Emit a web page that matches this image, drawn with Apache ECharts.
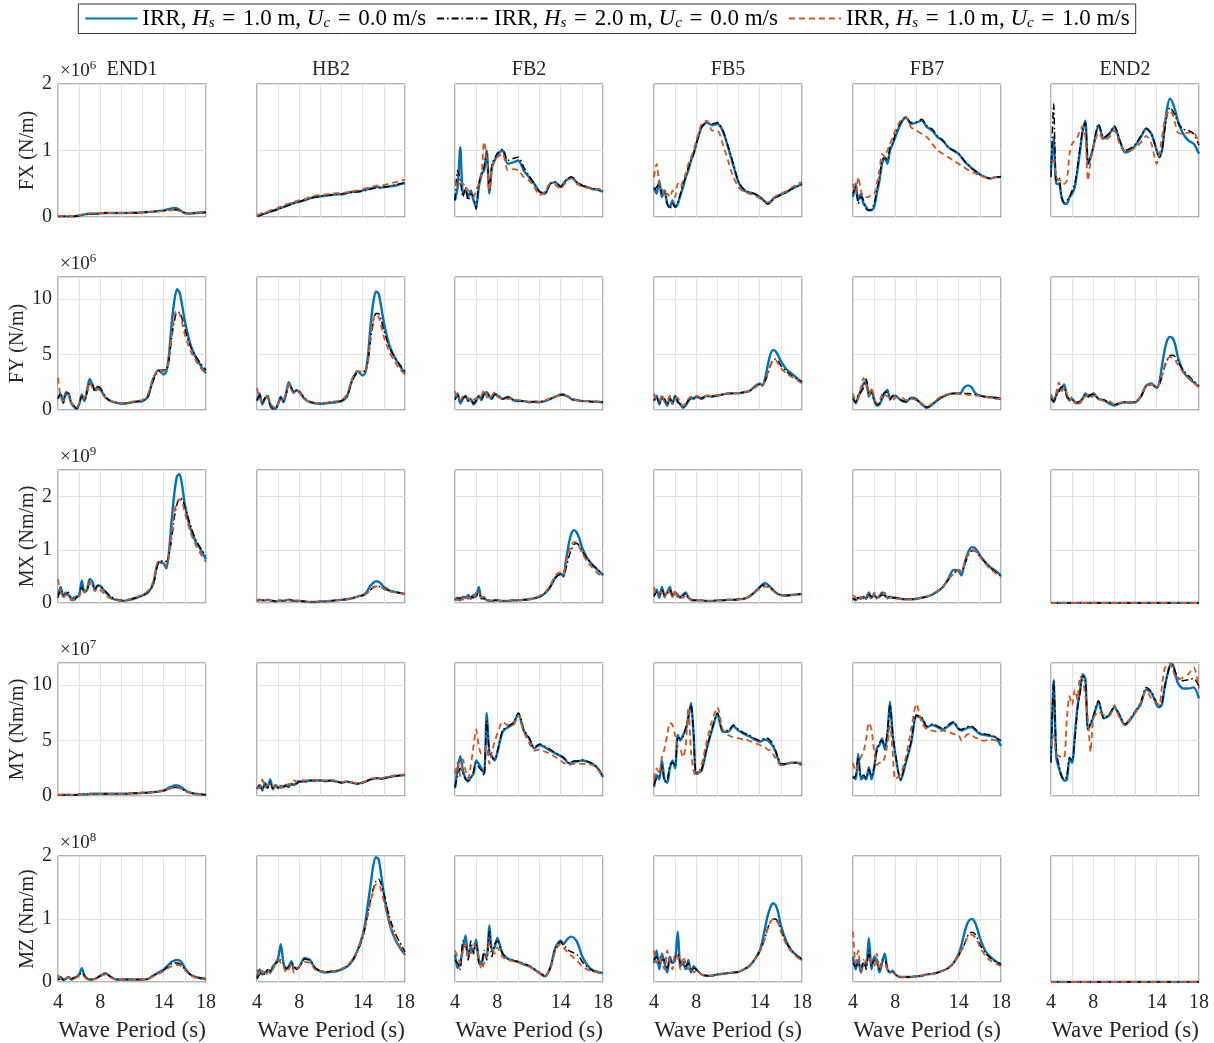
<!DOCTYPE html>
<html><head><meta charset="utf-8">
<script src="https://cdn.jsdelivr.net/npm/echarts@6/dist/echarts.min.js"></script>
<style>html,body{margin:0;padding:0;background:#fff}#c{width:1214px;height:1043px}</style>
</head><body><div id="c"></div>
<script>
// ---------------- data ----------------
const periods = [4,4.25,4.5,4.75,5,5.25,5.5,5.75,6,6.25,6.5,6.75,7,7.25,7.5,7.75,8,8.5,9,9.5,10,10.5,11,11.5,12,12.5,13,13.5,14,14.25,14.5,14.75,15,15.25,15.5,15.75,16,16.5,17,17.5,18];
const xTickLabels = ['4','8','14','18'];
const locations = ['END1','HB2','FB2','FB5','FB7','END2'];
const quantities = ['FX (N/m)','FY (N/m)','MX (Nm/m)','MY (Nm/m)','MZ (Nm/m)'];
const exponents = ['6','6','9','7','8'];
const yTickLabels = [['0','1','2'],['0','5','10'],['0','1','2'],['0','5','10'],['0','1','2']];
const yMax = [2,12,2.5,12,2];
const yStep = [1,5,1,5,1];
const caseHs = ['1.0','2.0','1.0'];
const caseUc = ['0.0','0.0','1.0'];
const seriesNames = ['IRR, Hs = 1.0 m, Uc = 0.0 m/s','IRR, Hs = 2.0 m, Uc = 0.0 m/s','IRR, Hs = 1.0 m, Uc = 1.0 m/s'];

const zeros = [0,0,0,0,0,0,0,0, 0,0,0,0,0,0,0,0, 0,0,0,0,0, 0,0,0,0,0, 0,0,0,0, 0,0,0,0,0,0, 0,0,0,0,0];

// FX (x1e6 N/m)
const fx_end1_a = [0.01,0.01,0.01,0.01,0.01,0.01,0.01,0.015, 0.02,0.03,0.04,0.045,0.05,0.05,0.05,0.05, 0.055,0.06,0.06,0.06,0.06, 0.06,0.065,0.065,0.07,0.075, 0.08,0.09,0.10,0.11, 0.12,0.13,0.135,0.13,0.11,0.08, 0.06,0.05,0.06,0.065,0.07];
const fx_end1_b = [0.01,0.01,0.01,0.01,0.01,0.01,0.01,0.015, 0.02,0.03,0.04,0.045,0.05,0.05,0.05,0.05, 0.055,0.06,0.06,0.06,0.06, 0.06,0.065,0.065,0.07,0.075, 0.08,0.088,0.095,0.1, 0.105,0.11,0.11,0.105,0.095,0.08, 0.065,0.055,0.06,0.065,0.07];
const fx_end1_c = [0.02,0.015,0.02,0.015,0.02,0.015,0.02,0.025, 0.03,0.035,0.045,0.05,0.055,0.055,0.05,0.055, 0.06,0.06,0.06,0.06,0.06, 0.06,0.065,0.065,0.07,0.075, 0.08,0.085,0.09,0.095, 0.1,0.1,0.1,0.1,0.09,0.08, 0.065,0.06,0.065,0.07,0.075];
const fx_hb2_a = [0.02,0.03,0.04,0.05,0.07,0.08,0.1,0.1, 0.12,0.14,0.15,0.17,0.18,0.2,0.21,0.22, 0.23,0.25,0.28,0.3,0.31, 0.32,0.33,0.34,0.34,0.36, 0.38,0.38,0.4,0.41, 0.42,0.43,0.44,0.45,0.45,0.44, 0.45,0.46,0.47,0.49,0.51];
const fx_hb2_b = [0.02,0.02,0.04,0.06,0.06,0.08,0.09,0.11, 0.12,0.13,0.15,0.16,0.18,0.19,0.21,0.22, 0.23,0.26,0.28,0.3,0.31, 0.33,0.33,0.34,0.35,0.36, 0.37,0.38,0.39,0.4, 0.41,0.42,0.43,0.44,0.44,0.44, 0.45,0.46,0.48,0.5,0.52];
const fx_hb2_c = [0.03,0.04,0.06,0.06,0.08,0.1,0.11,0.12, 0.14,0.16,0.17,0.19,0.2,0.22,0.23,0.24, 0.25,0.27,0.3,0.32,0.33, 0.34,0.35,0.36,0.36,0.37, 0.39,0.4,0.42,0.43, 0.44,0.45,0.46,0.47,0.47,0.47, 0.48,0.5,0.52,0.54,0.56];
const fx_fb2_a = [0.25,0.45,1.05,0.35,0.4,0.3,0.4,0.25, 0.15,0.45,0.65,0.7,1.0,0.35,0.75,0.85, 0.93,1.0,0.8,0.82,0.85, 0.7,0.6,0.5,0.38,0.35, 0.5,0.52,0.45,0.5, 0.55,0.58,0.6,0.57,0.52,0.5, 0.47,0.45,0.42,0.41,0.38];
const fx_fb2_b = [0.25,0.7,0.55,0.3,0.45,0.25,0.35,0.3, 0.12,0.5,0.62,0.75,0.95,0.4,0.8,0.88, 0.96,1.02,0.85,0.88,0.9, 0.75,0.62,0.5,0.38,0.36, 0.5,0.53,0.46,0.5, 0.55,0.58,0.6,0.58,0.53,0.5, 0.48,0.45,0.43,0.42,0.4];
const fx_fb2_c = [0.55,0.45,0.5,0.5,0.45,0.4,0.35,0.3, 0.4,0.5,0.6,1.13,0.9,0.4,0.75,0.85, 0.9,0.95,0.7,0.72,0.7, 0.6,0.55,0.45,0.33,0.38, 0.5,0.48,0.42,0.47, 0.52,0.56,0.58,0.56,0.5,0.48, 0.45,0.44,0.43,0.42,0.42];
const fx_fb5_a = [0.45,0.35,0.55,0.3,0.4,0.2,0.15,0.25, 0.15,0.2,0.33,0.45,0.6,0.7,0.85,0.95, 1.1,1.35,1.42,1.38,1.4, 1.3,1.05,0.78,0.52,0.4, 0.37,0.35,0.3,0.27, 0.23,0.2,0.22,0.27,0.3,0.32, 0.34,0.37,0.42,0.46,0.49];
const fx_fb5_b = [0.4,0.45,0.5,0.35,0.35,0.2,0.12,0.2, 0.15,0.22,0.35,0.5,0.6,0.75,0.85,0.95, 1.1,1.35,1.42,1.4,1.42, 1.3,1.07,0.8,0.53,0.42, 0.37,0.35,0.3,0.27, 0.23,0.2,0.22,0.26,0.29,0.31, 0.33,0.37,0.42,0.46,0.5];
const fx_fb5_c = [0.6,0.8,0.5,0.45,0.3,0.35,0.3,0.4, 0.3,0.5,0.45,0.55,0.65,0.8,0.9,1.0, 1.15,1.4,1.45,1.3,1.3, 1.1,0.85,0.6,0.45,0.38, 0.35,0.33,0.28,0.25, 0.23,0.22,0.24,0.28,0.31,0.33, 0.35,0.39,0.44,0.49,0.53];
const fx_fb7_a = [0.3,0.5,0.25,0.35,0.2,0.15,0.1,0.1, 0.15,0.35,0.55,0.8,0.9,0.8,1.0,1.1, 1.2,1.4,1.5,1.4,1.42, 1.45,1.35,1.3,1.2,1.15, 1.05,1.0,0.95,0.9, 0.85,0.8,0.77,0.73,0.7,0.67, 0.64,0.6,0.58,0.6,0.6];
const fx_fb7_b = [0.35,0.45,0.2,0.3,0.25,0.12,0.1,0.12, 0.2,0.4,0.6,0.85,0.9,0.85,1.05,1.1, 1.25,1.42,1.5,1.42,1.43, 1.47,1.37,1.32,1.22,1.15, 1.05,1.0,0.95,0.9, 0.85,0.8,0.77,0.73,0.7,0.67, 0.64,0.6,0.58,0.6,0.61];
const fx_fb7_c = [0.5,0.35,0.6,0.4,0.3,0.3,0.3,0.35, 0.35,0.5,0.7,0.95,0.9,1.0,1.1,1.2, 1.3,1.45,1.5,1.35,1.3, 1.25,1.2,1.1,1.0,0.95, 0.9,0.85,0.8,0.77, 0.75,0.72,0.7,0.68,0.66,0.64, 0.62,0.6,0.58,0.6,0.62];
const fx_end2_a = [0.7,1.2,0.5,0.5,0.3,0.2,0.2,0.3, 0.35,0.45,0.7,1.0,1.3,1.45,0.8,0.9, 1.05,1.38,1.18,1.25,1.35, 1.15,0.97,1.0,1.08,1.2, 1.33,1.25,1.0,0.9, 1.0,1.35,1.65,1.78,1.72,1.6, 1.45,1.25,1.15,1.1,0.95];
const fx_end2_b = [0.6,1.7,0.55,0.6,0.3,0.22,0.25,0.3, 0.4,0.5,0.75,1.05,1.3,1.42,0.8,0.9, 1.05,1.4,1.2,1.25,1.37, 1.15,1.0,1.03,1.1,1.22, 1.33,1.25,1.0,0.9, 1.0,1.3,1.55,1.65,1.6,1.52, 1.42,1.32,1.3,1.25,1.08];
const fx_end2_c = [0.85,0.85,0.6,0.55,0.55,0.5,0.55,0.95, 1.1,1.15,1.2,1.3,1.37,1.2,0.55,0.85, 1.05,1.27,1.15,1.2,1.3, 1.1,1.0,1.0,1.05,1.12, 1.22,1.1,0.8,0.95, 1.2,1.45,1.55,1.6,1.55,1.4, 1.27,1.25,1.27,1.27,1.1];

// FY (x1e6 N/m)
const fy_end1_a = [1.1,1.4,0.7,1.6,1.5,0.6,0.3,0.1, 0.5,1.4,0.8,1.8,2.8,2.3,1.8,2.1, 1.9,1.1,0.8,0.65,0.55, 0.6,0.7,0.75,0.8,1.2, 2.8,3.6,3.2,3.5, 5.0,7.8,9.8,10.9,10.6,9.4, 8.0,6.0,4.8,4.0,3.3];
const fy_end1_b = [1.0,1.6,0.6,1.5,1.5,0.6,0.4,0.15, 0.5,1.2,0.9,1.6,2.4,2.3,1.6,2.1, 2.0,1.2,0.8,0.7,0.6, 0.65,0.7,0.8,0.85,1.2, 2.6,3.5,3.6,3.6, 4.5,6.5,8.0,8.8,8.8,8.2, 7.3,5.8,4.9,4.2,3.6];
const fy_end1_c = [2.9,1.2,0.8,1.3,1.4,0.7,0.4,0.2, 0.6,1.0,1.1,1.6,2.5,2.0,1.7,1.9, 1.7,1.1,0.8,0.7,0.6, 0.65,0.75,0.85,0.9,1.4, 2.9,3.6,3.5,3.6, 4.5,6.8,8.5,9.0,8.7,7.8, 6.8,5.4,4.5,3.8,3.2];
const fy_hb2_a = [0.8,1.5,0.5,1.0,1.3,0.4,0.1,0.1, 0.6,1.2,0.7,1.5,2.5,2.0,1.6,1.8, 1.6,1.0,0.7,0.6,0.55, 0.6,0.65,0.7,0.8,1.2, 2.7,3.5,3.1,3.4, 4.9,7.7,9.7,10.7,10.5,9.3, 7.9,5.9,4.8,4.0,3.3];
const fy_hb2_b = [0.9,1.3,0.6,1.1,1.2,0.5,0.2,0.15, 0.5,1.1,0.8,1.4,2.2,2.0,1.5,1.8, 1.7,1.1,0.75,0.65,0.6, 0.65,0.7,0.75,0.85,1.2, 2.6,3.4,3.5,3.5, 4.4,6.4,7.9,8.7,8.7,8.1, 7.2,5.7,4.8,4.1,3.5];
const fy_hb2_c = [2.0,1.0,0.8,1.2,1.1,0.6,0.3,0.2, 0.6,1.0,1.0,1.5,2.3,1.8,1.5,1.7, 1.6,1.0,0.75,0.65,0.6, 0.65,0.7,0.8,0.9,1.4, 2.8,3.5,3.4,3.5, 4.4,6.6,8.2,8.6,8.4,7.6, 6.6,5.3,4.4,3.7,3.2];
const fy_fb2_a = [1.0,1.5,0.6,1.0,1.3,0.8,1.0,0.5, 0.8,1.3,0.9,1.5,1.6,1.2,1.0,1.5, 1.3,1.0,1.2,0.9,0.8, 0.8,0.7,0.75,0.7,0.8, 1.0,1.2,1.4,1.4, 1.3,1.2,1.0,0.9,0.9,0.85, 0.8,0.8,0.75,0.75,0.7];
const fy_fb2_b = [0.9,1.3,0.7,1.1,1.2,0.9,0.9,0.6, 0.9,1.2,1.0,1.4,1.5,1.3,1.1,1.4, 1.4,1.0,1.1,0.95,0.85, 0.8,0.75,0.75,0.75,0.85, 1.0,1.2,1.35,1.35, 1.25,1.15,1.0,0.95,0.9,0.85, 0.8,0.8,0.75,0.75,0.7];
const fy_fb2_c = [1.7,1.0,0.9,1.2,1.0,1.1,0.7,0.9, 1.1,1.0,1.3,1.8,1.2,1.0,1.3,1.6, 1.2,1.1,1.0,1.0,0.9, 0.85,0.75,0.8,0.75,0.85, 1.05,1.2,1.3,1.3, 1.25,1.15,1.0,0.95,0.9,0.85, 0.8,0.8,0.78,0.75,0.72];
const fy_fb5_a = [0.8,1.3,0.5,1.2,0.9,0.4,1.1,0.6, 1.3,0.7,0.5,0.2,0.4,0.8,1.1,1.0, 1.2,1.0,1.3,1.2,1.3, 1.4,1.5,1.5,1.5,1.6, 1.7,2.1,2.4,2.2, 2.8,4.0,5.0,5.4,5.3,4.9, 4.4,3.7,3.3,2.9,2.5];
const fy_fb5_b = [0.9,1.1,0.6,1.0,1.0,0.5,1.0,0.7, 1.2,0.8,0.5,0.25,0.5,0.9,1.0,1.1, 1.2,1.1,1.2,1.25,1.3, 1.4,1.5,1.5,1.55,1.6, 1.7,2.0,2.3,2.2, 2.6,3.2,4.0,4.5,4.6,4.4, 4.0,3.5,3.1,2.8,2.5];
const fy_fb5_c = [1.5,0.9,0.8,1.4,0.7,0.8,1.3,0.5, 1.0,1.1,0.6,0.4,0.6,1.0,1.2,1.1, 1.3,1.1,1.3,1.3,1.35, 1.4,1.5,1.5,1.55,1.6, 1.7,2.0,2.3,2.2, 2.6,3.3,4.0,4.4,4.5,4.2, 3.8,3.3,3.0,2.7,2.4];
const fy_fb7_a = [1.2,0.6,1.2,1.8,2.4,2.6,1.2,1.8, 0.9,0.4,0.5,1.0,1.5,1.8,1.0,1.2, 1.3,0.9,0.7,1.1,1.0, 0.5,0.2,0.5,0.9,1.2, 1.4,1.5,1.5,1.6, 2.0,2.2,2.2,2.0,1.6,1.4, 1.3,1.2,1.15,1.1,1.0];
const fy_fb7_b = [1.0,0.7,1.4,1.6,2.0,2.8,1.5,1.6, 0.9,0.5,0.6,1.2,1.6,1.6,0.9,1.3, 1.3,0.9,0.8,1.1,0.9, 0.6,0.25,0.5,0.9,1.2, 1.4,1.5,1.5,1.5, 1.5,1.5,1.5,1.45,1.4,1.35, 1.3,1.2,1.15,1.1,1.0];
const fy_fb7_c = [1.5,0.8,1.0,2.0,2.9,2.2,1.4,2.0, 1.2,0.6,0.8,1.4,1.5,1.2,1.2,0.9, 1.1,1.2,0.9,1.0,0.9, 0.6,0.3,0.6,1.0,1.3, 1.4,1.5,1.45,1.4, 1.4,1.4,1.35,1.35,1.3,1.3, 1.3,1.2,1.1,1.0,1.0];
const fy_end2_a = [1.2,0.7,1.4,1.8,2.0,2.3,1.3,0.9, 1.0,0.7,0.6,0.7,1.0,1.5,1.2,1.3, 1.5,1.0,0.9,0.6,0.4, 0.6,0.7,0.65,0.7,1.2, 2.2,2.4,2.0,2.5, 4.0,5.4,6.3,6.6,6.5,5.9, 4.8,3.5,2.9,2.5,2.1];
const fy_end2_b = [1.0,0.8,1.3,1.6,2.1,2.0,1.2,1.0, 0.9,0.8,0.7,0.8,1.1,1.3,1.2,1.4, 1.4,1.0,0.9,0.7,0.5, 0.6,0.7,0.7,0.75,1.2, 2.1,2.3,2.0,2.3, 3.0,3.9,4.5,4.9,4.95,4.8, 4.4,3.6,3.1,2.6,2.2];
const fy_end2_c = [1.4,1.0,1.6,2.5,1.7,2.0,1.5,0.8, 1.2,0.6,0.9,0.6,1.2,1.2,1.4,1.1, 1.3,1.1,0.8,0.8,0.5, 0.65,0.75,0.7,0.75,1.3, 2.2,2.3,2.0,2.4, 3.2,4.0,4.6,4.8,4.7,4.5, 4.1,3.4,2.9,2.5,2.0];

// MX (x1e9 Nm/m)
const mx_end1_a = [0.15,0.3,0.12,0.2,0.15,0.08,0.1,0.12, 0.15,0.42,0.2,0.25,0.45,0.4,0.25,0.33, 0.32,0.2,0.1,0.06,0.04, 0.05,0.07,0.1,0.14,0.2, 0.35,0.77,0.74,0.65, 0.97,1.55,2.05,2.38,2.42,2.2, 1.85,1.42,1.17,1.0,0.82];
const mx_end1_b = [0.1,0.25,0.15,0.15,0.2,0.1,0.05,0.1, 0.15,0.3,0.2,0.25,0.38,0.35,0.25,0.33, 0.32,0.22,0.12,0.07,0.05, 0.06,0.08,0.11,0.15,0.2, 0.35,0.75,0.8,0.78, 0.9,1.2,1.6,1.85,1.97,1.95, 1.8,1.48,1.2,1.03,0.88];
const mx_end1_c = [0.45,0.2,0.1,0.15,0.15,0.05,0.05,0.08, 0.12,0.25,0.2,0.3,0.38,0.3,0.22,0.28, 0.25,0.15,0.08,0.06,0.05, 0.06,0.09,0.12,0.16,0.22, 0.4,0.78,0.75,0.7, 0.9,1.3,1.7,1.9,1.95,1.9, 1.7,1.35,1.1,0.92,0.77];
const mx_hb2_a = [0.05,0.06,0.05,0.05,0.06,0.05,0.04,0.03, 0.04,0.05,0.04,0.05,0.06,0.05,0.04,0.04, 0.04,0.03,0.02,0.02,0.03, 0.03,0.04,0.05,0.06,0.07, 0.09,0.12,0.15,0.18, 0.25,0.33,0.38,0.41,0.4,0.36, 0.3,0.24,0.21,0.19,0.17];
const mx_hb2_b = [0.04,0.05,0.06,0.04,0.05,0.05,0.04,0.04, 0.04,0.04,0.05,0.05,0.05,0.05,0.04,0.04, 0.04,0.03,0.02,0.02,0.03, 0.03,0.04,0.05,0.06,0.07, 0.09,0.12,0.14,0.16, 0.2,0.25,0.29,0.31,0.31,0.3, 0.27,0.23,0.21,0.19,0.17];
const mx_hb2_c = [0.07,0.05,0.06,0.04,0.06,0.04,0.05,0.03, 0.05,0.04,0.05,0.06,0.05,0.04,0.04,0.05, 0.04,0.03,0.02,0.02,0.03, 0.03,0.04,0.05,0.06,0.07, 0.09,0.12,0.14,0.16, 0.2,0.26,0.3,0.31,0.31,0.29, 0.26,0.22,0.2,0.18,0.17];
const mx_fb2_a = [0.05,0.1,0.05,0.12,0.1,0.15,0.08,0.15, 0.12,0.3,0.08,0.1,0.05,0.04,0.04,0.05, 0.05,0.04,0.04,0.05,0.05, 0.06,0.07,0.09,0.12,0.18, 0.3,0.48,0.55,0.5, 0.8,1.1,1.3,1.37,1.33,1.22, 1.05,0.85,0.72,0.62,0.52];
const mx_fb2_b = [0.07,0.08,0.1,0.08,0.12,0.1,0.12,0.1, 0.14,0.18,0.1,0.08,0.06,0.05,0.04,0.05, 0.05,0.04,0.04,0.05,0.05, 0.06,0.07,0.09,0.12,0.18, 0.3,0.47,0.54,0.5, 0.65,0.85,1.0,1.1,1.12,1.08, 0.98,0.83,0.72,0.63,0.55];
const mx_fb2_c = [0.1,0.05,0.12,0.06,0.15,0.08,0.12,0.1, 0.2,0.15,0.1,0.12,0.06,0.05,0.05,0.04, 0.05,0.04,0.04,0.05,0.05, 0.06,0.07,0.09,0.13,0.2, 0.33,0.52,0.58,0.55, 0.75,0.95,1.08,1.15,1.13,1.05, 0.95,0.78,0.66,0.56,0.48];
const mx_fb5_a = [0.15,0.25,0.1,0.3,0.12,0.2,0.3,0.12, 0.2,0.15,0.1,0.15,0.2,0.1,0.06,0.05, 0.05,0.05,0.04,0.04,0.05, 0.05,0.06,0.06,0.07,0.08, 0.12,0.2,0.3,0.35, 0.37,0.35,0.3,0.25,0.2,0.17, 0.15,0.14,0.15,0.16,0.17];
const mx_fb5_b = [0.12,0.2,0.15,0.25,0.15,0.18,0.25,0.15, 0.18,0.12,0.12,0.14,0.18,0.1,0.07,0.05, 0.05,0.05,0.04,0.04,0.05, 0.05,0.06,0.06,0.07,0.08, 0.12,0.2,0.29,0.33, 0.34,0.32,0.28,0.24,0.2,0.17, 0.15,0.14,0.15,0.16,0.17];
const mx_fb5_c = [0.3,0.15,0.2,0.2,0.1,0.25,0.2,0.1, 0.25,0.1,0.15,0.1,0.15,0.12,0.06,0.05, 0.05,0.05,0.04,0.04,0.05, 0.05,0.06,0.06,0.07,0.08, 0.12,0.19,0.27,0.3, 0.31,0.3,0.27,0.23,0.19,0.16, 0.15,0.14,0.15,0.16,0.17];
const mx_fb7_a = [0.1,0.05,0.1,0.08,0.12,0.08,0.2,0.1, 0.15,0.1,0.12,0.2,0.15,0.1,0.12,0.1, 0.1,0.08,0.07,0.07,0.08, 0.1,0.12,0.16,0.22,0.3, 0.45,0.62,0.6,0.52, 0.7,0.88,1.0,1.05,1.04,0.98, 0.9,0.77,0.67,0.6,0.52];
const mx_fb7_b = [0.08,0.07,0.1,0.1,0.1,0.1,0.15,0.12, 0.12,0.1,0.12,0.15,0.14,0.1,0.12,0.1, 0.1,0.08,0.07,0.07,0.08, 0.1,0.12,0.16,0.22,0.3, 0.43,0.55,0.62,0.6, 0.68,0.82,0.92,0.98,0.98,0.94, 0.88,0.76,0.66,0.58,0.5];
const mx_fb7_c = [0.15,0.1,0.05,0.12,0.08,0.15,0.12,0.08, 0.2,0.08,0.15,0.12,0.2,0.08,0.1,0.12, 0.09,0.08,0.07,0.07,0.08, 0.1,0.12,0.16,0.22,0.3, 0.43,0.55,0.62,0.6, 0.7,0.85,0.95,1.0,0.99,0.94, 0.87,0.74,0.64,0.56,0.48];

// MY (x1e7 Nm/m)
const my_end1_a = [0.1,0.1,0.1,0.1,0.1,0.1,0.1,0.1, 0.15,0.15,0.15,0.15,0.2,0.2,0.2,0.2, 0.2,0.2,0.2,0.2,0.2, 0.2,0.25,0.25,0.3,0.3, 0.35,0.4,0.5,0.6, 0.75,0.85,0.95,0.95,0.9,0.75, 0.55,0.3,0.2,0.15,0.1];
const my_end1_b = [0.1,0.1,0.1,0.1,0.1,0.1,0.1,0.1, 0.15,0.15,0.15,0.15,0.2,0.2,0.2,0.2, 0.2,0.2,0.2,0.2,0.2, 0.2,0.25,0.25,0.3,0.3, 0.35,0.4,0.48,0.55, 0.65,0.72,0.76,0.76,0.72,0.62, 0.48,0.3,0.2,0.15,0.1];
const my_end1_c = [0.15,0.1,0.15,0.1,0.15,0.1,0.1,0.15, 0.15,0.2,0.15,0.2,0.2,0.2,0.2,0.2, 0.2,0.2,0.2,0.2,0.2, 0.2,0.25,0.25,0.3,0.3, 0.35,0.4,0.48,0.55, 0.65,0.72,0.75,0.75,0.7,0.6, 0.47,0.3,0.2,0.15,0.1];
const my_hb2_a = [0.6,1.0,0.5,1.2,0.8,1.5,0.6,1.0, 0.7,0.9,0.8,1.0,0.8,1.1,1.0,1.2, 1.3,1.3,1.4,1.4,1.4, 1.35,1.4,1.3,1.2,1.3, 1.2,1.1,1.2,1.3, 1.4,1.5,1.55,1.6,1.6,1.55, 1.6,1.7,1.8,1.85,1.9];
const my_hb2_b = [0.7,0.9,0.6,1.1,0.7,1.3,0.7,0.9, 0.8,0.8,0.9,0.9,0.9,1.0,1.1,1.1, 1.3,1.3,1.4,1.4,1.4, 1.35,1.4,1.3,1.2,1.3, 1.2,1.1,1.2,1.3, 1.4,1.5,1.55,1.6,1.6,1.55, 1.6,1.7,1.8,1.85,1.9];
const my_hb2_c = [0.8,0.7,1.5,0.8,1.0,1.2,0.9,0.8, 1.0,0.7,1.0,0.9,1.1,1.0,1.4,1.3, 1.5,1.4,1.45,1.45,1.45, 1.4,1.45,1.35,1.25,1.35, 1.25,1.15,1.25,1.35, 1.45,1.55,1.6,1.65,1.65,1.6, 1.65,1.75,1.85,1.9,1.95];
const my_fb2_a = [0.7,2.5,3.6,2.3,1.6,1.3,1.7,2.0, 3.2,2.9,2.5,2.0,7.5,3.9,3.6,3.2, 3.9,5.8,6.2,6.5,7.4, 5.9,5.2,4.3,4.6,4.4, 4.1,3.85,3.6,3.45, 3.2,2.95,3.0,3.1,3.1,3.15, 3.2,3.1,2.9,2.5,1.7];
const my_fb2_b = [0.8,1.8,2.5,2.0,1.5,1.4,1.6,2.2, 3.0,2.6,2.3,1.8,6.8,4.0,3.5,3.3, 4.0,5.9,6.3,6.6,7.5, 6.0,5.3,4.4,4.7,4.5, 4.2,3.9,3.65,3.5, 3.25,3.0,3.05,3.15,3.15,3.2, 3.25,3.15,2.9,2.5,1.7];
const my_fb2_c = [2.0,3.0,1.8,3.3,2.3,1.6,2.8,4.5, 6.0,4.5,3.8,4.0,4.5,2.9,4.0,4.9, 5.6,6.7,6.4,6.4,7.3, 5.8,4.8,4.1,4.2,4.0, 3.8,3.5,3.2,3.0, 2.9,2.8,2.85,2.9,2.9,2.9, 2.9,2.9,2.8,2.4,1.7];
const my_fb5_a = [0.8,1.9,1.5,3.2,1.5,1.2,2.5,3.2, 2.5,5.5,5.0,5.5,6.0,7.0,8.4,5.5, 2.0,2.3,4.3,6.0,7.4, 5.8,5.8,6.3,5.9,5.6, 5.4,5.1,4.9,5.0, 5.1,5.0,4.8,4.5,4.0,3.3, 2.8,2.9,3.0,3.0,2.8];
const my_fb5_b = [1.0,1.6,1.8,2.8,1.3,1.4,2.8,3.0, 2.8,5.2,5.2,5.3,6.2,7.2,8.2,5.6, 2.1,2.4,4.4,6.1,7.5, 5.9,5.9,6.4,6.0,5.7, 5.5,5.2,5.0,5.1, 5.2,5.2,5.0,4.7,4.1,3.4, 2.9,2.9,3.0,3.0,2.9];
const my_fb5_c = [1.5,2.5,2.0,3.5,4.3,5.5,6.6,6.4, 5.5,4.5,4.2,3.5,4.5,8.0,4.0,2.2, 1.8,2.8,5.0,6.8,8.0, 6.0,5.5,5.3,5.2,5.1, 5.0,4.8,4.6,4.5, 4.4,4.2,4.1,3.8,3.4,3.0, 2.8,2.9,3.0,3.0,3.0];
const my_fb7_a = [1.8,1.5,3.8,1.5,1.7,1.5,2.6,1.5, 2.5,4.3,4.6,5.2,4.2,5.5,8.5,5.5, 3.8,1.4,3.0,4.8,7.2, 7.0,6.2,6.4,6.2,6.0, 6.3,6.6,6.0,5.9, 6.0,6.1,6.2,6.2,6.0,5.8, 5.6,5.5,5.4,5.3,4.5];
const my_fb7_b = [1.6,1.8,3.5,1.7,1.9,1.6,2.4,1.8, 2.6,4.0,4.8,5.0,4.5,5.8,8.2,5.8, 3.9,1.5,3.1,4.9,7.3, 7.1,6.3,6.5,6.3,6.1, 6.4,6.7,6.1,6.0, 6.1,6.2,6.3,6.3,6.1,5.9, 5.7,5.6,5.5,5.3,5.0];
const my_fb7_c = [3.0,2.3,2.8,3.5,4.0,5.2,6.6,6.0, 4.0,2.8,3.0,3.0,3.5,4.7,6.3,4.0, 1.5,2.0,3.5,6.0,8.3, 6.6,6.0,5.9,5.8,5.9, 5.8,5.6,5.5,5.0, 5.2,5.5,5.6,5.5,5.3,5.2, 5.0,5.0,5.1,5.0,4.9];
const my_end2_a = [3.6,10.5,3.5,2.5,1.8,1.4,1.5,3.3, 3.0,5.5,8.0,9.5,11.0,10.6,6.0,6.5, 7.1,8.5,7.0,7.3,8.0, 7.2,6.4,6.9,7.6,8.3, 9.6,9.3,8.2,8.0, 8.3,9.8,10.9,11.8,11.9,11.1, 10.2,9.7,9.7,9.8,8.8];
const my_end2_b = [3.0,10.4,4.0,2.8,1.8,1.5,1.8,3.5, 3.2,5.0,7.8,9.3,10.8,10.5,6.0,6.6, 7.2,8.6,7.0,7.3,8.1, 7.3,6.5,7.0,7.7,8.5, 9.8,9.4,8.4,8.1, 8.4,9.8,10.9,11.7,11.8,11.2, 10.7,10.4,10.5,10.6,9.9];
const my_end2_c = [4.5,5.5,3.8,3.6,3.5,3.5,7.0,9.0, 8.2,9.6,8.7,10.8,10.5,9.0,6.7,4.0, 7.0,7.6,7.3,7.2,8.2, 7.0,6.4,7.0,7.6,8.5, 9.5,8.8,8.4,8.2, 10.0,11.5,11.8,12.0,11.4,10.8, 10.5,10.7,11.0,11.6,9.7];

// MZ (x1e8 Nm/m)
const mz_end1_a = [0.04,0.08,0.03,0.05,0.08,0.04,0.06,0.08, 0.12,0.22,0.1,0.05,0.04,0.04,0.05,0.07, 0.1,0.14,0.08,0.04,0.04, 0.04,0.04,0.04,0.04,0.05, 0.1,0.15,0.2,0.24, 0.28,0.32,0.34,0.35,0.34,0.3, 0.22,0.12,0.08,0.06,0.05];
const mz_end1_b = [0.03,0.06,0.04,0.06,0.07,0.05,0.07,0.08, 0.11,0.15,0.1,0.06,0.04,0.04,0.05,0.07, 0.1,0.13,0.08,0.04,0.04, 0.04,0.04,0.04,0.04,0.05, 0.1,0.14,0.19,0.22, 0.26,0.29,0.3,0.3,0.29,0.26, 0.2,0.12,0.08,0.06,0.05];
const mz_end1_c = [0.11,0.05,0.04,0.07,0.06,0.06,0.09,0.07, 0.1,0.12,0.08,0.05,0.04,0.04,0.05,0.06, 0.09,0.12,0.07,0.04,0.04, 0.04,0.04,0.04,0.04,0.05, 0.09,0.13,0.17,0.2, 0.23,0.25,0.27,0.27,0.27,0.24, 0.19,0.11,0.07,0.05,0.04];
const mz_hb2_a = [0.07,0.2,0.12,0.15,0.18,0.15,0.25,0.3, 0.38,0.6,0.3,0.2,0.25,0.33,0.22,0.22, 0.24,0.38,0.35,0.22,0.17, 0.15,0.16,0.17,0.2,0.24, 0.33,0.5,0.75,0.95, 1.25,1.55,1.85,1.98,1.95,1.7, 1.4,0.95,0.7,0.55,0.43];
const mz_hb2_b = [0.05,0.12,0.15,0.12,0.2,0.18,0.22,0.28, 0.33,0.35,0.3,0.22,0.24,0.3,0.25,0.2, 0.24,0.36,0.35,0.22,0.18, 0.16,0.17,0.18,0.21,0.25, 0.33,0.48,0.7,0.88, 1.1,1.3,1.48,1.6,1.63,1.55, 1.4,1.05,0.8,0.63,0.48];
const mz_hb2_c = [0.2,0.1,0.18,0.1,0.15,0.22,0.2,0.3, 0.35,0.3,0.25,0.15,0.2,0.28,0.15,0.2, 0.25,0.32,0.3,0.2,0.18, 0.16,0.17,0.18,0.21,0.26, 0.35,0.5,0.72,0.88, 1.08,1.28,1.45,1.55,1.55,1.45, 1.28,0.95,0.72,0.57,0.43];
const mz_fb2_a = [0.44,0.22,0.3,0.55,0.74,0.4,0.55,0.5, 0.67,0.35,0.3,0.45,0.4,0.9,0.5,0.55, 0.7,0.45,0.37,0.34,0.32, 0.28,0.25,0.2,0.14,0.09, 0.22,0.55,0.66,0.6, 0.65,0.7,0.72,0.7,0.65,0.55, 0.42,0.27,0.19,0.16,0.14];
const mz_fb2_b = [0.35,0.3,0.2,0.65,0.6,0.35,0.65,0.45, 0.6,0.3,0.25,0.5,0.35,0.8,0.4,0.6, 0.65,0.45,0.37,0.34,0.32, 0.29,0.26,0.21,0.15,0.1, 0.22,0.53,0.64,0.58, 0.55,0.5,0.48,0.46,0.44,0.4, 0.33,0.24,0.18,0.15,0.14];
const mz_fb2_c = [0.5,0.4,0.3,0.5,0.6,0.4,0.45,0.6, 0.55,0.4,0.2,0.3,0.45,0.6,0.55,0.45, 0.55,0.4,0.35,0.33,0.31, 0.28,0.25,0.2,0.14,0.1, 0.2,0.5,0.6,0.55, 0.5,0.45,0.42,0.38,0.35,0.3, 0.25,0.2,0.17,0.15,0.13];
const mz_fb5_a = [0.3,0.5,0.2,0.45,0.3,0.15,0.4,0.3, 0.35,0.8,0.25,0.3,0.2,0.35,0.15,0.25, 0.2,0.12,0.1,0.1,0.12, 0.13,0.14,0.15,0.16,0.2, 0.25,0.35,0.5,0.65, 0.85,1.05,1.18,1.25,1.22,1.1, 0.9,0.65,0.5,0.42,0.35];
const mz_fb5_b = [0.35,0.4,0.3,0.35,0.35,0.2,0.35,0.3, 0.4,0.45,0.3,0.35,0.25,0.3,0.18,0.22, 0.2,0.12,0.1,0.1,0.12, 0.13,0.14,0.15,0.16,0.2, 0.25,0.35,0.48,0.58, 0.7,0.85,0.95,1.0,1.0,0.95, 0.82,0.63,0.5,0.42,0.37];
const mz_fb5_c = [0.5,0.3,0.4,0.3,0.2,0.5,0.3,0.2, 0.45,0.4,0.2,0.4,0.3,0.2,0.25,0.15, 0.18,0.12,0.1,0.1,0.12, 0.13,0.14,0.15,0.16,0.2, 0.25,0.35,0.48,0.58, 0.7,0.85,0.95,1.0,0.99,0.93, 0.8,0.6,0.48,0.4,0.34];
const mz_fb7_a = [0.4,0.2,0.35,0.15,0.3,0.25,0.7,0.2, 0.4,0.35,0.15,0.3,0.45,0.2,0.15,0.18, 0.12,0.08,0.08,0.08,0.09, 0.1,0.12,0.13,0.15,0.18, 0.22,0.3,0.45,0.58, 0.75,0.9,0.98,1.0,0.96,0.85, 0.7,0.5,0.4,0.33,0.28];
const mz_fb7_b = [0.3,0.25,0.3,0.2,0.35,0.2,0.5,0.25, 0.35,0.3,0.2,0.35,0.35,0.22,0.15,0.16, 0.12,0.08,0.08,0.08,0.09, 0.1,0.12,0.13,0.15,0.18, 0.22,0.3,0.42,0.5, 0.58,0.7,0.77,0.79,0.77,0.7, 0.6,0.46,0.38,0.32,0.28];
const mz_fb7_c = [0.8,0.3,0.5,0.2,0.25,0.35,0.4,0.3, 0.25,0.45,0.2,0.3,0.3,0.2,0.18,0.15, 0.12,0.08,0.08,0.08,0.09, 0.1,0.12,0.13,0.15,0.18, 0.22,0.3,0.42,0.5, 0.58,0.68,0.74,0.75,0.72,0.66, 0.56,0.42,0.34,0.29,0.25];

// panel table [row][col] -> [blue, black, orange]
const panels = [
  [[fx_end1_a,fx_end1_b,fx_end1_c],[fx_hb2_a,fx_hb2_b,fx_hb2_c],[fx_fb2_a,fx_fb2_b,fx_fb2_c],[fx_fb5_a,fx_fb5_b,fx_fb5_c],[fx_fb7_a,fx_fb7_b,fx_fb7_c],[fx_end2_a,fx_end2_b,fx_end2_c]],
  [[fy_end1_a,fy_end1_b,fy_end1_c],[fy_hb2_a,fy_hb2_b,fy_hb2_c],[fy_fb2_a,fy_fb2_b,fy_fb2_c],[fy_fb5_a,fy_fb5_b,fy_fb5_c],[fy_fb7_a,fy_fb7_b,fy_fb7_c],[fy_end2_a,fy_end2_b,fy_end2_c]],
  [[mx_end1_a,mx_end1_b,mx_end1_c],[mx_hb2_a,mx_hb2_b,mx_hb2_c],[mx_fb2_a,mx_fb2_b,mx_fb2_c],[mx_fb5_a,mx_fb5_b,mx_fb5_c],[mx_fb7_a,mx_fb7_b,mx_fb7_c],[zeros,zeros,zeros]],
  [[my_end1_a,my_end1_b,my_end1_c],[my_hb2_a,my_hb2_b,my_hb2_c],[my_fb2_a,my_fb2_b,my_fb2_c],[my_fb5_a,my_fb5_b,my_fb5_c],[my_fb7_a,my_fb7_b,my_fb7_c],[my_end2_a,my_end2_b,my_end2_c]],
  [[mz_end1_a,mz_end1_b,mz_end1_c],[mz_hb2_a,mz_hb2_b,mz_hb2_c],[mz_fb2_a,mz_fb2_b,mz_fb2_c],[mz_fb5_a,mz_fb5_b,mz_fb5_c],[mz_fb7_a,mz_fb7_b,mz_fb7_c],[zeros,zeros,zeros]]
];

// ---------------- layout / styles ----------------
const serif = '"Liberation Serif", "DejaVu Serif", serif';
const lefts = [58,257,455,654,853,1051];
const tops = [84,277,470,663,856];
const W = 148, H = 133;
const styles = [
  {color:'#0072BD', width:2.4, type:'solid'},
  {color:'#000000', width:1.5, type:[7,3,1.5,3]},
  {color:'#D95319', width:1.8, type:[6,4]}
];

const grids = [], xAxes = [], yAxes = [], series = [], graphics = [], titles = [];
let g = 0;
for (let r = 0; r < 5; r++) {
  for (let c = 0; c < 6; c++) {
    grids.push({left:lefts[c], top:tops[r], width:W, height:H, show:true, borderColor:'#666', borderWidth:1, backgroundColor:'rgba(0,0,0,0)'});
    xAxes.push({
      type:'value', gridIndex:g, min:4, max:18, interval:2,
      axisLine:{show:false}, axisTick:{show:false},
      splitLine:{show:true, lineStyle:{color:'#e2e2e2', width:1}},
      axisLabel:{show:r===4, formatter:v => xTickLabels.includes(String(v)) ? String(v) : '', fontFamily:serif, fontSize:20, color:'#262626', margin:11},
      name: r===4 ? 'Wave Period (s)' : '', nameLocation:'middle', nameGap:37,
      nameTextStyle:{fontFamily:serif, fontSize:23, color:'#262626'}
    });
    yAxes.push({
      type:'value', gridIndex:g, min:0, max:yMax[r], interval:yStep[r],
      axisLine:{show:false}, axisTick:{show:false},
      splitLine:{show:true, lineStyle:{color:'#e2e2e2', width:1}},
      axisLabel:{show:c===0, formatter:v => yTickLabels[r].includes(String(v)) ? String(v) : '', fontFamily:serif, fontSize:20, color:'#262626', margin:6},
      name: c===0 ? quantities[r] : '', nameLocation:'middle', nameGap:19, nameRotate:90,
      nameTextStyle:{fontFamily:serif, fontSize:20, color:'#262626'}
    });
    const trip = panels[r][c];
    for (let s = 0; s < 3; s++) {
      series.push({
        name:seriesNames[s], type:'line', xAxisIndex:g, yAxisIndex:g,
        data: periods.map((p,k) => [p, trip[s][k]]),
        showSymbol:false, symbol:'none', smooth:0.25,
        lineStyle:styles[s], itemStyle:{color:styles[s].color},
        z: 2 + s, silent:true
      });
    }
    g++;
  }
  graphics.push({type:'text', left:lefts[0]+2, top:tops[r]-25,
    style:{text:'{a|×10}{b|' + exponents[r] + '}', rich:{
      a:{fontFamily:serif, fontSize:19, fill:'#262626', verticalAlign:'bottom', lineHeight:22},
      b:{fontFamily:serif, fontSize:13, fill:'#262626', verticalAlign:'top', lineHeight:22}
    }}});
}
locations.forEach((n,i) => titles.push({text:n, left:lefts[i]+W/2, top:60, padding:0, textAlign:'center',
  textStyle:{fontFamily:serif, fontSize:20, fontWeight:'normal', color:'#262626'}}));

const rich = {
  r:{fontFamily:serif, fontSize:23, color:'#000'},
  i:{fontFamily:serif, fontSize:23, fontStyle:'italic', color:'#000'},
  s:{fontFamily:serif, fontSize:15, fontStyle:'italic', color:'#000', padding:[9,0,0,0]}
};
const eq = '\u2004=\u2004';

const chart = echarts.init(document.getElementById('c'), null, {renderer:'canvas'});
chart.setOption({
  animation:false,
  backgroundColor:'#fff',
  title:titles,
  legend:{
    data:seriesNames, top:4, left:'center', orient:'horizontal',
    itemWidth:52, itemHeight:14, itemGap:10,
    itemStyle:{opacity:0},
    borderColor:'#333', borderWidth:1, padding:[3,6,3,6], backgroundColor:'#fff',
    selectedMode:false,
    formatter: name => {
      const i = seriesNames.indexOf(name);
      return '{r|IRR, }{i|H}{s|s}{r|' + eq + caseHs[i] + ' m, }{i|U}{s|c}{r|' + eq + caseUc[i] + ' m/s}';
    },
    textStyle:{fontFamily:serif, fontSize:23, color:'#000', rich:rich}
  },
  grid:grids, xAxis:xAxes, yAxis:yAxes, series:series, graphic:graphics
});
</script>
</body></html>
